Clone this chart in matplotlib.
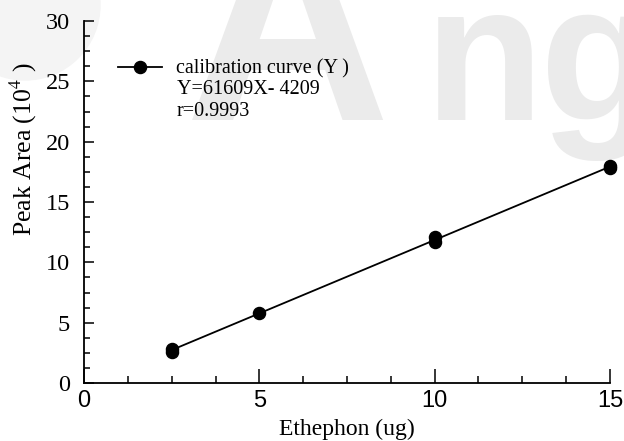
import numpy as np
import matplotlib
matplotlib.use("Agg")
import matplotlib.pyplot as plt
from matplotlib.ticker import AutoMinorLocator
from matplotlib.lines import Line2D
from matplotlib.patches import Ellipse

plt.rcParams['font.family'] = 'Liberation Serif'
plt.rcParams['mathtext.fontset'] = 'stix'

# data (peak area in 10^4)
ethephon = [2.5, 2.5, 5, 10, 10, 15, 15]
peak_area = [2.6, 2.8, 5.8, 11.7, 12.1, 17.8, 18.0]
legend_label = "calibration curve (Y )"
eq_lines = ["Y=61609X- 4209", "r=0.9993"]
xticks = [0, 5, 10, 15]
yticks = [0, 5, 10, 15, 20, 25, 30]

fig = plt.figure(figsize=(6.24, 4.41), dpi=100)

# faint watermark in the background
fig.patches.append(Ellipse((25 / 624, 1 - 5 / 441), 150 / 624, 150 / 441,
                           transform=fig.transFigure, color='#f4f4f4', zorder=0))
wm = dict(fontweight='bold', family='Liberation Sans', color='#ebebeb',
          zorder=0, va='baseline')
fig.text(185 / 624, 1 - 120 / 441, "A", fontsize=205, **wm)
fig.text(425 / 624, 1 - 120 / 441, "n", fontsize=140, **wm)
fig.text(540 / 624, 1 - 120 / 441, "g", fontsize=140, **wm)

ax = fig.add_axes([84 / 624, 1 - 383 / 441, 526 / 624, 362 / 441])
ax.set_zorder(1)
ax.patch.set_alpha(0)

# fit line through the points
k, b = np.polyfit(ethephon, peak_area, 1)
xs = np.array([min(ethephon), max(ethephon)])
ax.plot(xs, k * xs + b, color='black', lw=1.3, zorder=2)
ax.plot(ethephon, peak_area, 'o', color='black', ms=8.7, zorder=3, clip_on=False)

ax.set_xlim(0, 15)
ax.set_ylim(0, 30)
ax.set_xticks(xticks)
ax.set_yticks(yticks)
ax.xaxis.set_minor_locator(AutoMinorLocator(4))
ax.yaxis.set_minor_locator(AutoMinorLocator(4))

for s in ['top', 'right']:
    ax.spines[s].set_visible(False)
for s in ['left', 'bottom']:
    ax.spines[s].set_linewidth(1.3)

ax.tick_params(axis='x', which='major', direction='in', length=10, width=1.1, pad=5)
ax.tick_params(axis='x', which='minor', direction='in', length=5, width=1.1)
ax.tick_params(axis='y', which='major', direction='in', length=7.5, width=1.1, pad=10)
ax.tick_params(axis='y', which='minor', direction='in', length=4.5, width=1.1)
for lab in ax.get_xticklabels():
    lab.set_family('Liberation Sans')
    lab.set_fontsize(17)
for lab in ax.get_yticklabels():
    lab.set_fontsize(17.5)

ax.set_xlabel("Ethephon (ug)", fontsize=17)
ax.set_ylabel("Peak Area (10$^4$ )", fontsize=18.5)
ax.xaxis.set_label_coords(0.5, -0.10)
ax.yaxis.set_label_coords(-0.085, 0.646)

handle = Line2D([], [], color='black', lw=1.3, marker='o', ms=8.7)
ax.legend([handle], [legend_label], loc='center left', frameon=False,
          bbox_to_anchor=((118 - 84) / 526, (383 - 69) / 362),
          borderaxespad=0, borderpad=0, handlelength=2.2, handletextpad=0.7,
          prop={'size': 14.5})
for i, t in enumerate(eq_lines):
    ax.text((177 - 84) / 526, (383 - 90 - 21 * i) / 362, t, fontsize=14.5,
            transform=ax.transAxes, va='center', ha='left')

fig.savefig("out.png", dpi=100)
